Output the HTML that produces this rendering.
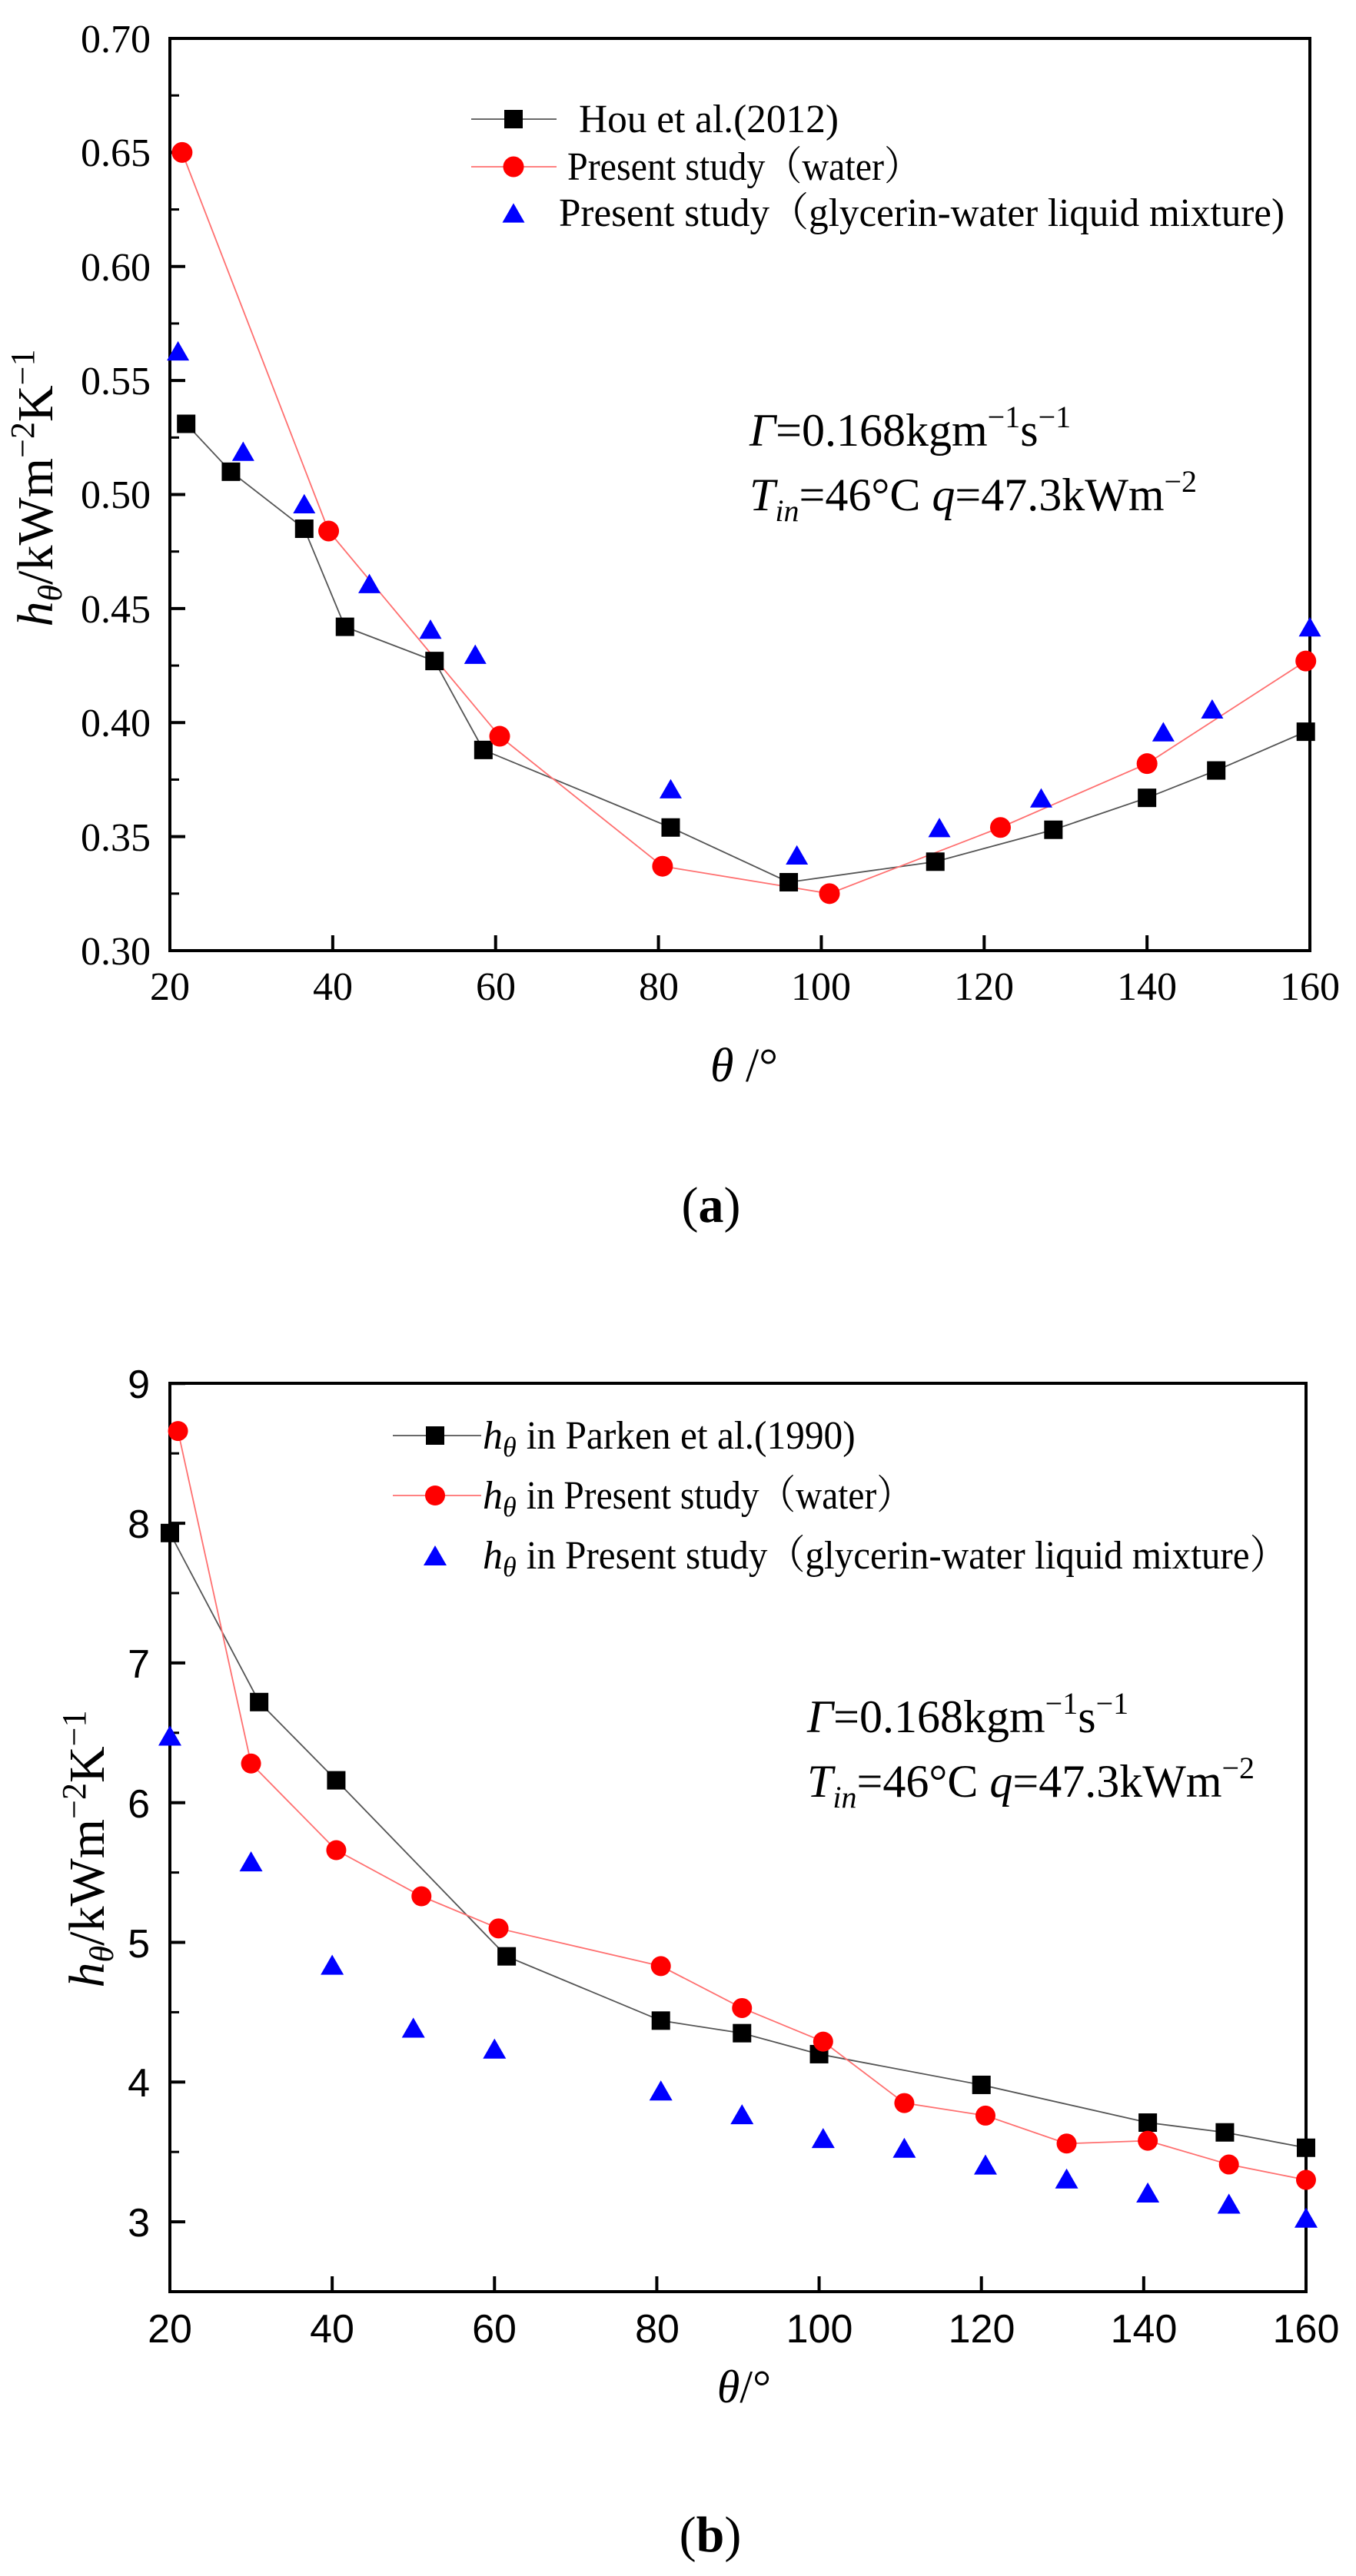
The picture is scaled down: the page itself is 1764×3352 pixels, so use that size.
<!DOCTYPE html>
<html><head><meta charset="utf-8"><style>
html,body{margin:0;padding:0;background:#fff;}
svg{display:block;}
.serif{font-family:"Liberation Serif","Noto Serif CJK SC",serif;}
.sans{font-family:"Liberation Sans",sans-serif;}
</style></head><body>
<svg id="s" xmlns="http://www.w3.org/2000/svg" width="1764" height="3352" viewBox="0 0 1764 3352">
<rect width="1764" height="3352" fill="#fff"/>
<g id="plots"></g>
<!-- Plot A texts -->
<g class="serif" font-size="52" fill="#000" text-anchor="end">
<text x="196" y="1255">0.30</text><text x="196" y="1107">0.35</text><text x="196" y="958">0.40</text>
<text x="196" y="810">0.45</text><text x="196" y="661">0.50</text><text x="196" y="513">0.55</text>
<text x="196" y="365">0.60</text><text x="196" y="216">0.65</text><text x="196" y="68">0.70</text>
</g>
<g class="serif" font-size="52" fill="#000" text-anchor="middle">
<text x="221" y="1301">20</text><text x="433" y="1301">40</text><text x="645" y="1301">60</text>
<text x="857" y="1301">80</text><text x="1068" y="1301">100</text><text x="1280" y="1301">120</text>
<text x="1492" y="1301">140</text><text x="1704" y="1301">160</text>
</g>
<g class="serif" font-size="52" fill="#000">
<text x="753" y="172" textLength="338" lengthAdjust="spacingAndGlyphs">Hou et al.(2012)</text>
<text x="738" y="234" textLength="460" lengthAdjust="spacingAndGlyphs">Present study（water）</text>
<text x="727" y="294" textLength="944" lengthAdjust="spacingAndGlyphs">Present study（glycerin-water liquid mixture)</text>
</g>
<g class="serif" font-size="60" fill="#000">
<text x="975" y="580"><tspan font-style="italic">Γ</tspan>=0.168kgm<tspan dy="-24" font-size="40">−1</tspan><tspan dy="24">s</tspan><tspan dy="-24" font-size="40">−1</tspan></text>
<text x="975" y="664"><tspan font-style="italic">T</tspan><tspan dy="14" font-size="40" font-style="italic">in</tspan><tspan dy="-14">=46°C  </tspan><tspan font-style="italic">q</tspan>=47.3kWm<tspan dy="-24" font-size="40">−2</tspan></text>
</g>
<text class="serif" font-size="66" transform="translate(68,635) rotate(-90)" text-anchor="middle"><tspan font-style="italic">h</tspan><tspan font-style="italic" font-size="44" dy="12">θ</tspan><tspan dy="-12">/kWm</tspan><tspan dy="-24" font-size="44">−2</tspan><tspan dy="24">K</tspan><tspan dy="-24" font-size="44">−1</tspan></text>
<text class="serif" font-size="62" x="968" y="1407" text-anchor="middle"><tspan font-style="italic">θ</tspan> /°</text>
<text class="serif" font-size="66" x="925" y="1590" text-anchor="middle">(<tspan font-weight="bold">a</tspan>)</text>

<!-- Plot B texts -->
<g class="sans" font-size="52" fill="#000" text-anchor="end">
<text x="195" y="2910">3</text><text x="195" y="2728">4</text><text x="195" y="2547">5</text>
<text x="195" y="2365">6</text><text x="195" y="2183">7</text><text x="195" y="2001">8</text><text x="195" y="1819">9</text>
</g>
<g class="sans" font-size="52" fill="#000" text-anchor="middle">
<text x="221" y="3048">20</text><text x="432" y="3048">40</text><text x="643" y="3048">60</text>
<text x="855" y="3048">80</text><text x="1066" y="3048">100</text><text x="1277" y="3048">120</text>
<text x="1488" y="3048">140</text><text x="1699" y="3048">160</text>
</g>
<g class="serif" font-size="52" fill="#000">
<text x="628" y="1885"><tspan font-style="italic">h</tspan><tspan font-style="italic" font-size="36" dy="10">θ</tspan><tspan dy="-10"> </tspan><tspan textLength="428" lengthAdjust="spacingAndGlyphs">in Parken et al.(1990)</tspan></text>
<text x="628" y="1963"><tspan font-style="italic">h</tspan><tspan font-style="italic" font-size="36" dy="10">θ</tspan><tspan dy="-10"> </tspan><tspan textLength="503" lengthAdjust="spacingAndGlyphs">in Present study（water）</tspan></text>
<text x="628" y="2041"><tspan font-style="italic">h</tspan><tspan font-style="italic" font-size="36" dy="10">θ</tspan><tspan dy="-10"> </tspan><tspan textLength="990" lengthAdjust="spacingAndGlyphs">in Present study（glycerin-water liquid mixture）</tspan></text>
</g>
<g class="serif" font-size="60" fill="#000">
<text x="1050" y="2254"><tspan font-style="italic">Γ</tspan>=0.168kgm<tspan dy="-24" font-size="40">−1</tspan><tspan dy="24">s</tspan><tspan dy="-24" font-size="40">−1</tspan></text>
<text x="1050" y="2338"><tspan font-style="italic">T</tspan><tspan dy="14" font-size="40" font-style="italic">in</tspan><tspan dy="-14">=46°C  </tspan><tspan font-style="italic">q</tspan>=47.3kWm<tspan dy="-24" font-size="40">−2</tspan></text>
</g>
<text class="serif" font-size="66" transform="translate(135,2406) rotate(-90)" text-anchor="middle"><tspan font-style="italic">h</tspan><tspan font-style="italic" font-size="44" dy="12">θ</tspan><tspan dy="-12">/kWm</tspan><tspan dy="-24" font-size="44">−2</tspan><tspan dy="24">K</tspan><tspan dy="-24" font-size="44">−1</tspan></text>
<text class="serif" font-size="60" x="968" y="3126" text-anchor="middle"><tspan font-style="italic">θ</tspan>/°</text>
<text class="serif" font-size="66" x="924" y="3320" text-anchor="middle">(<tspan font-weight="bold">b</tspan>)</text>
</svg>
<script>
(function(){
var NS="http://www.w3.org/2000/svg",g=document.getElementById("plots");
function el(n,a){var e=document.createElementNS(NS,n);for(var k in a)e.setAttribute(k,a[k]);g.appendChild(e);return e;}
function sq(x,y,s){el("rect",{x:x-s/2,y:y-s/2,width:s,height:s,fill:"#000"});}
function ci(x,y,r){el("circle",{cx:x,cy:y,r:r,fill:"#f00"});}
function tr(x,y,s){var h=s*0.87;el("polygon",{points:(x-s/2)+","+(y+h/2)+" "+(x+s/2)+","+(y+h/2)+" "+x+","+(y-h/2),fill:"#00f"});}
function line(pts,c){el("polyline",{points:pts.map(function(p){return p[0]+","+p[1];}).join(" "),fill:"none",stroke:c,"stroke-width":1.8});}
function axes(L,R,T,B,xt,yt,ym){
  xt.forEach(function(x){el("line",{x1:x,y1:B,x2:x,y2:B-20,stroke:"#000","stroke-width":4});});
  yt.forEach(function(y){el("line",{x1:L,y1:y,x2:L+20,y2:y,stroke:"#000","stroke-width":4});});
  ym.forEach(function(y){el("line",{x1:L,y1:y,x2:L+12,y2:y,stroke:"#000","stroke-width":3});});
  el("rect",{x:L,y:T,width:R-L,height:B-T,fill:"none",stroke:"#000","stroke-width":4});
}
var ax=function(x){return 221+(x-20)*10.593;}, ay=function(y){return 1237-(y-0.3)*2967.5;};
var xt=[],yt=[],ym=[];
for(var i=20;i<=160;i+=20)xt.push(ax(i));
for(var v=0.3;v<=0.701;v+=0.05){yt.push(ay(v));ym.push(ay(v+0.025));}
ym.pop();
axes(221,1704,50,1237,xt,yt,ym);
var hb=[[22,0.531],[27.5,0.510],[36.5,0.485],[41.5,0.442],[52.5,0.427],[58.5,0.388],[81.5,0.354],[96,0.330],[114,0.339],[128.5,0.353],[140,0.367],[148.5,0.379],[159.5,0.396]];
var hr=[[21.5,0.650],[39.5,0.484],[60.5,0.394],[80.5,0.337],[101,0.325],[122,0.354],[140,0.382],[159.5,0.427]];
var hu=[[21,0.563],[29,0.519],[36.5,0.496],[44.5,0.461],[52,0.441],[57.5,0.430],[81.5,0.371],[97,0.342],[114.5,0.354],[127,0.367],[142,0.396],[148,0.406],[160,0.442]];
function m(a,fx,fy){return a.map(function(p){return [fx(p[0]),fy(p[1])];});}
var B1=m(hb,ax,ay),R1=m(hr,ax,ay),U1=m(hu,ax,ay);
line(B1,"#555");line(R1,"#ff7070");
B1.forEach(function(p){sq(p[0],p[1],24);});
R1.forEach(function(p){ci(p[0],p[1],13.5);});
U1.forEach(function(p){tr(p[0],p[1],29);});
el("line",{x1:613,y1:155,x2:724,y2:155,stroke:"#555","stroke-width":1.8});sq(668,155,24);
el("line",{x1:613,y1:217,x2:724,y2:217,stroke:"#ff7070","stroke-width":1.8});ci(668,217,13.5);
tr(668,277,29);
var bx=function(x){return 221+(x-20)*10.557;}, by=function(y){return 2982-(y-2.5)*181.8;};
xt=[];yt=[];ym=[];
for(i=20;i<=160;i+=20)xt.push(bx(i));
for(v=3;v<=9;v+=1){yt.push(by(v));}
for(v=3.5;v<=8.5;v+=1){ym.push(by(v));}
axes(221,1699,1800,2982,xt,yt,ym);
var pb=[[20,7.93],[31,6.72],[40.5,6.16],[61.5,4.90],[80.5,4.44],[90.5,4.35],[100,4.20],[120,3.98],[140.5,3.71],[150,3.64],[160,3.53]];
var pr=[[21,8.66],[30,6.28],[40.5,5.66],[51,5.33],[60.5,5.10],[80.5,4.83],[90.5,4.53],[100.5,4.29],[110.5,3.85],[120.5,3.76],[130.5,3.56],[140.5,3.58],[150.5,3.41],[160,3.30]];
var pu=[[20,6.48],[30,5.58],[40,4.84],[50,4.39],[60,4.24],[80.5,3.94],[90.5,3.77],[100.5,3.60],[110.5,3.53],[120.5,3.41],[130.5,3.31],[140.5,3.21],[150.5,3.13],[160,3.03]];
var B2=m(pb,bx,by),R2=m(pr,bx,by),U2=m(pu,bx,by);
line(B2,"#555");line(R2,"#ff7070");
B2.forEach(function(p){sq(p[0],p[1],24);});
R2.forEach(function(p){ci(p[0],p[1],13);});
U2.forEach(function(p){tr(p[0],p[1],30);});
el("line",{x1:511,y1:1868,x2:626,y2:1868,stroke:"#555","stroke-width":1.8});sq(566,1868,24);
el("line",{x1:511,y1:1946,x2:626,y2:1946,stroke:"#ff7070","stroke-width":1.8});ci(566,1946,13);
tr(566,2024,30);
})();
</script>
</body></html>
